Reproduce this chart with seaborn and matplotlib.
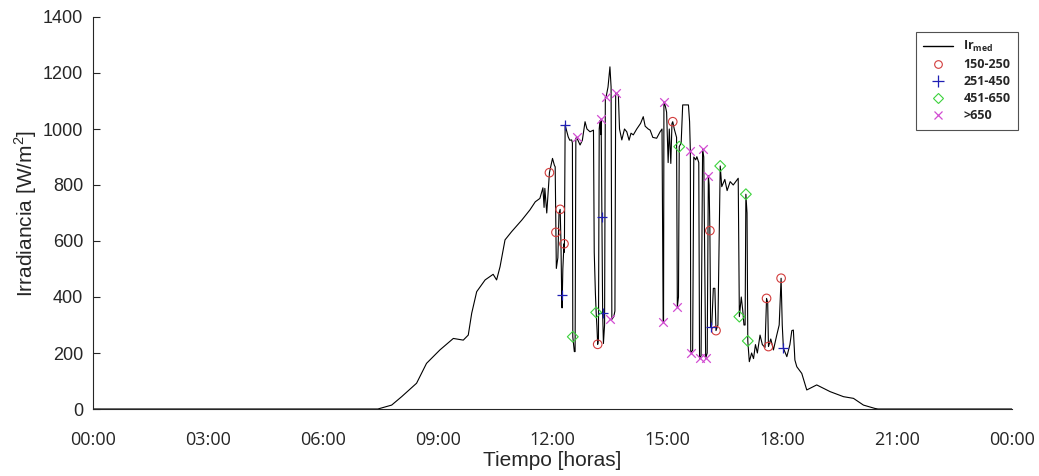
import numpy as np
import pandas as pd
import matplotlib
matplotlib.use("Agg")
import matplotlib.pyplot as plt
from matplotlib.lines import Line2D
import seaborn as sns

# Measured irradiance over the day (hours, W/m^2)
t_hours = [
    0.00, 7.44, 7.80, 8.06, 8.45, 8.71, 9.06, 9.41, 9.67, 9.80, 9.89, 10.02,
    10.24, 10.45, 10.54, 10.63, 10.76, 10.93, 11.20, 11.41, 11.55, 11.67,
    11.75, 11.78, 11.80, 11.85, 11.88, 11.92, 11.96, 12.00, 12.05, 12.07,
    12.09, 12.10, 12.14, 12.17, 12.20, 12.22, 12.24, 12.25, 12.27, 12.30,
    12.31, 12.33, 12.41, 12.45, 12.50, 12.52, 12.53, 12.57, 12.59, 12.61,
    12.63, 12.72, 12.78, 12.85, 12.90, 12.98, 13.07, 13.09, 13.12, 13.14,
    13.16, 13.18, 13.20, 13.22, 13.24, 13.26, 13.27, 13.29, 13.31, 13.33,
    13.36, 13.38, 13.40, 13.45, 13.50, 13.53, 13.55, 13.60, 13.63, 13.65,
    13.67, 13.72, 13.75, 13.81, 13.88, 13.94, 14.00, 14.05, 14.11, 14.20,
    14.30, 14.37, 14.42, 14.50, 14.55, 14.62, 14.72, 14.81, 14.86, 14.89,
    14.90, 14.91, 14.95, 14.98, 15.02, 15.05, 15.09, 15.12, 15.14, 15.18,
    15.24, 15.26, 15.29, 15.31, 15.36, 15.40, 15.55, 15.58, 15.60, 15.61,
    15.66, 15.69, 15.74, 15.77, 15.82, 15.84, 15.88, 15.92, 15.95, 16.00,
    16.04, 16.07, 16.09, 16.11, 16.13, 16.16, 16.20, 16.24, 16.27, 16.32,
    16.38, 16.42, 16.50, 16.56, 16.64, 16.72, 16.85, 16.88, 16.93, 16.97,
    17.00, 17.03, 17.05, 17.08, 17.10, 17.14, 17.20, 17.25, 17.30, 17.35,
    17.42, 17.48, 17.55, 17.59, 17.62, 17.64, 17.70, 17.77, 17.85, 17.92,
    17.97, 18.00, 18.03, 18.12, 18.20, 18.25, 18.29, 18.33, 18.38, 18.51,
    18.64, 18.90, 19.25, 19.60, 19.86, 20.12, 20.42, 20.50, 24.00,
]
irr = [
    0, 0, 14, 44, 92, 163, 211, 252, 246, 264, 342, 419,
    461, 481, 461, 508, 604, 633, 675, 711, 740, 752,
    790, 720, 788, 700, 760, 844, 870, 895, 870, 865,
    631, 502, 540, 700, 713, 600, 406, 361, 500, 590,
    560, 1014, 972, 960, 961, 950, 258, 205, 205, 967,
    970, 943, 960, 1026, 1000, 990, 996, 560, 414, 345,
    294, 231, 250, 1000, 1030, 980, 1034, 684, 342, 234,
    300, 1115, 1115, 1150, 1222, 1150, 320, 330, 350, 1127,
    1127, 1121, 1000, 961, 1000, 990, 960, 985, 979, 1000,
    1020, 1044, 1010, 1000, 996, 970, 967, 990, 1000, 312,
    312, 1097, 1080, 1060, 880, 1000, 877, 1020, 1026, 1000,
    970, 365, 400, 937, 950, 1086, 1086, 1026, 922, 201,
    210, 900, 890, 901, 880, 181, 190, 929, 900, 181,
    200, 833, 800, 637, 294, 300, 431, 431, 280, 300,
    868, 794, 820, 780, 812, 800, 824, 330, 400, 350,
    300, 300, 767, 700, 243, 169, 200, 180, 230, 200,
    264, 230, 220, 395, 380, 223, 250, 211, 260, 300,
    467, 300, 217, 187, 230, 280, 282, 175, 151, 127,
    68, 86, 62, 44, 38, 14, 2, 0, 0,
]

# Points flagged by class
red_t = [11.92, 12.20, 12.09, 12.30, 13.18, 15.14, 16.11, 16.27, 17.59, 17.64, 17.97]
red_v = [844, 713, 631, 590, 231, 1026, 637, 280, 395, 223, 467]
blue_t = [12.24, 12.33, 13.29, 13.31, 16.13, 18.03]
blue_v = [406, 1014, 684, 342, 294, 217]
green_t = [12.53, 13.14, 15.31, 16.38, 16.88, 17.05, 17.10]
green_v = [258, 345, 937, 868, 330, 767, 243]
mag_t = [12.63, 13.27, 13.40, 13.67, 13.50, 14.91, 14.89, 15.26, 15.60, 15.61,
         15.92, 15.84, 16.00, 16.07]
mag_v = [970, 1034, 1115, 1127, 320, 1097, 312, 365, 922, 201, 929, 181, 181, 833]

legend_labels = [r"Ir$_{\mathregular{med}}$", "150-250", "251-450", "451-650", ">650"]
x_ticks = [0, 3, 6, 9, 12, 15, 18, 21, 24]
x_tick_labels = ["00:00", "03:00", "06:00", "09:00", "12:00", "15:00", "18:00", "21:00", "00:00"]
y_ticks = [0, 200, 400, 600, 800, 1000, 1200, 1400]

sns.set_theme(style="white")
plt.rcParams["font.family"] = ["Liberation Sans", "DejaVu Sans"]

GREY = "#262626"
RED = "#d23c3c"
BLUE = "#1f1fb4"
GREEN = "#3cd23c"
MAG = "#d24bd2"

fig = plt.figure(figsize=(10.39, 4.76), dpi=100)
ax = fig.add_axes([93 / 1039, 1 - 409 / 476, 919 / 1039, 392 / 476])

df = pd.DataFrame({"t": t_hours, "v": irr})
sns.lineplot(data=df, x="t", y="v", sort=False, estimator=None, color="black",
             linewidth=0.8, ax=ax)

ms = 38
sns.scatterplot(x=red_t, y=red_v, marker="o", s=ms, facecolors="none",
                edgecolor=RED, linewidth=0.8, ax=ax, zorder=3)
sns.scatterplot(x=blue_t, y=blue_v, marker="+", s=ms * 1.3, color=BLUE,
                linewidth=0.9, ax=ax, zorder=3)
sns.scatterplot(x=green_t, y=green_v, marker="D", s=ms * 0.8, facecolors="none",
                edgecolor=GREEN, linewidth=0.8, ax=ax, zorder=3)
sns.scatterplot(x=mag_t, y=mag_v, marker="x", s=ms, color=MAG,
                linewidth=0.9, ax=ax, zorder=3)

ax.set_xlim(0, 24)
ax.set_ylim(0, 1400)
ax.set_xticks(x_ticks)
ax.set_xticklabels(x_tick_labels, fontfamily="Open Sans", fontsize=13, color=GREY)
ax.set_yticks(y_ticks)
ax.set_yticklabels([str(v) for v in y_ticks], fontsize=13, color=GREY)
ax.tick_params(axis="x", length=0, pad=16)
ax.tick_params(axis="y", direction="in", length=5, width=0.8, color=GREY, pad=7, left=True)

for side in ("top", "right"):
    ax.spines[side].set_visible(False)
for side in ("left", "bottom"):
    ax.spines[side].set_color(GREY)
    ax.spines[side].set_linewidth(0.8)

ax.set_xlabel("Tiempo [horas]", fontsize=15, color=GREY, labelpad=1)
ax.set_ylabel(r"Irradiancia [W/m$^{\mathregular{2}}$]", fontsize=15, color=GREY, labelpad=3)

handles = [
    Line2D([], [], color="black", lw=1.0),
    Line2D([], [], ls="none", marker="o", mfc="none", mec=RED, ms=5.5, mew=0.8),
    Line2D([], [], ls="none", marker="+", color=BLUE, ms=8, mew=0.9),
    Line2D([], [], ls="none", marker="D", mfc="none", mec=GREEN, ms=5.5, mew=0.8),
    Line2D([], [], ls="none", marker="x", color=MAG, ms=6, mew=0.9),
]
leg = ax.legend(handles, legend_labels, loc="upper right",
                bbox_to_anchor=(1.0065, 0.962), borderaxespad=0,
                prop={"family": "Open Sans", "weight": "bold", "size": 9},
                frameon=True, fancybox=False, edgecolor=GREY,
                handlelength=2.4, handletextpad=0.8, labelspacing=0.32,
                borderpad=0.6, markerfirst=True)
leg.get_frame().set_linewidth(0.8)

fig.savefig("out.png", dpi=100)
